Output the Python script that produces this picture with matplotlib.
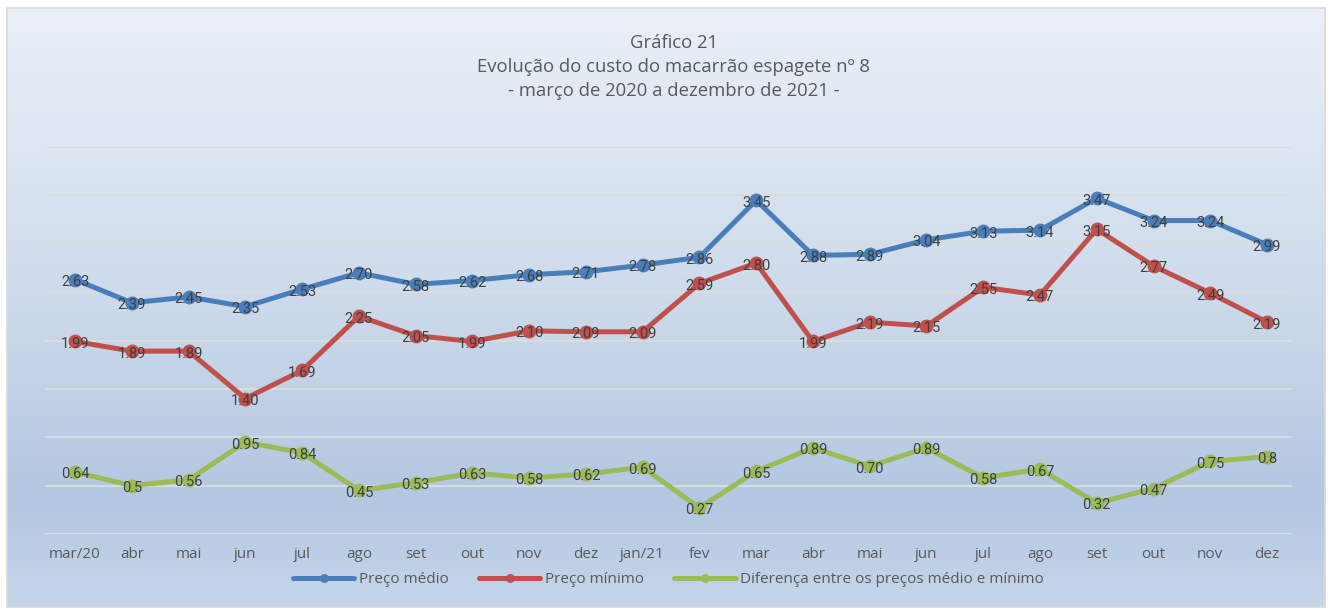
import matplotlib.pyplot as plt
import numpy as np
from matplotlib.colors import LinearSegmentedColormap
from matplotlib.patches import Rectangle

plt.rcParams['font.family'] = ['Open Sans', 'DejaVu Sans']

months = ["mar/20", "abr", "mai", "jun", "jul", "ago", "set", "out", "nov", "dez",
          "jan/21", "fev", "mar", "abr", "mai", "jun", "jul", "ago", "set", "out",
          "nov", "dez"]
preco_medio = [2.63, 2.39, 2.45, 2.35, 2.53, 2.70, 2.58, 2.62, 2.68, 2.71, 2.78,
               2.86, 3.45, 2.88, 2.89, 3.04, 3.13, 3.14, 3.47, 3.24, 3.24, 2.99]
preco_minimo = [1.99, 1.89, 1.89, 1.40, 1.69, 2.25, 2.05, 1.99, 2.10, 2.09, 2.09,
                2.59, 2.80, 1.99, 2.19, 2.15, 2.55, 2.47, 3.15, 2.77, 2.49, 2.19]
# rótulos como aparecem no gráfico original
diferenca_txt = ["0.64", "0.5", "0.56", "0.95", "0.84", "0.45", "0.53", "0.63",
                 "0.58", "0.62", "0.69", "0.27", "0.65", "0.89", "0.70", "0.89",
                 "0.58", "0.67", "0.32", "0.47", "0.75", "0.8"]
diferenca = [float(s) for s in diferenca_txt]

titulo = "Gráfico 21\nEvolução do custo do macarrão espagete nº 8\n- março de 2020 a dezembro de 2021 -"

W, H = 1333, 610
fig = plt.figure(figsize=(W / 100, H / 100), dpi=100)

# fundo com gradiente
bg = fig.add_axes([0, 0, 1, 1])
bg.set_xlim(0, W)
bg.set_ylim(H, 0)
bg.axis('off')
grad_cmap = LinearSegmentedColormap.from_list(
    'fundo', [(0.0, '#ebf0f8'), (0.45, '#cfdcec'), (0.82, '#b3c7e1'), (1.0, '#c6d6ea')])
grad = np.linspace(0, 1, 256).reshape(-1, 1)
bg.imshow(grad, cmap=grad_cmap, aspect='auto', extent=(7, 1325, 607, 8), zorder=0)
bg.add_patch(Rectangle((7, 8), 1318, 599, fill=False, edgecolor='#d9d9d9', lw=1.2, zorder=1))

ax = fig.add_axes([45 / W, 1 - 534 / H, (1292 - 45) / W, (534 - 147) / H])
ax.patch.set_alpha(0)
x = np.arange(len(months))

series = [
    (preco_medio, '#4a7ebb', "Preço médio", [f"{v:.2f}" for v in preco_medio]),
    (preco_minimo, '#c0504d', "Preço mínimo", [f"{v:.2f}" for v in preco_minimo]),
    (diferenca, '#9bbb59', "Diferença entre os preços médio e mínimo", diferenca_txt),
]
for vals, cor, nome, rotulos in series:
    ax.plot(x, vals, color=cor, lw=3.6, marker='o', ms=9, label=nome, zorder=3,
            solid_capstyle='round')
    for xi, v, t in zip(x, vals, rotulos):
        ax.text(xi, v - 0.025, t, ha='center', va='center', fontsize=10.5,
                color='#404040', zorder=4, family=['Roboto', 'DejaVu Sans'])

ax.set_ylim(0, 4)
ax.set_yticks(np.arange(0, 4.01, 0.5))
ax.set_xlim(-0.53, 21.44)
ax.set_xticks(x)
ax.set_xticklabels(months, fontsize=11, color='#595959')
ax.tick_params(axis='x', length=0, pad=9)
ax.tick_params(axis='y', length=0, labelleft=False)
ax.grid(axis='y', color='#dcdcdc', lw=1.4, zorder=1)
for s in ax.spines.values():
    s.set_visible(False)

fig.text(674 / W, 1 - 67 / H, titulo, ha='center', va='center', fontsize=13.3,
         color='#595959', linespacing=1.42)

ax.legend(loc='center', bbox_to_anchor=(0.5, -0.118), ncol=3, frameon=False,
          fontsize=11, labelcolor='#595959', handlelength=4, columnspacing=2.0,
          handletextpad=0.3, markerscale=0.6)

fig.savefig('out.png', dpi=100)
